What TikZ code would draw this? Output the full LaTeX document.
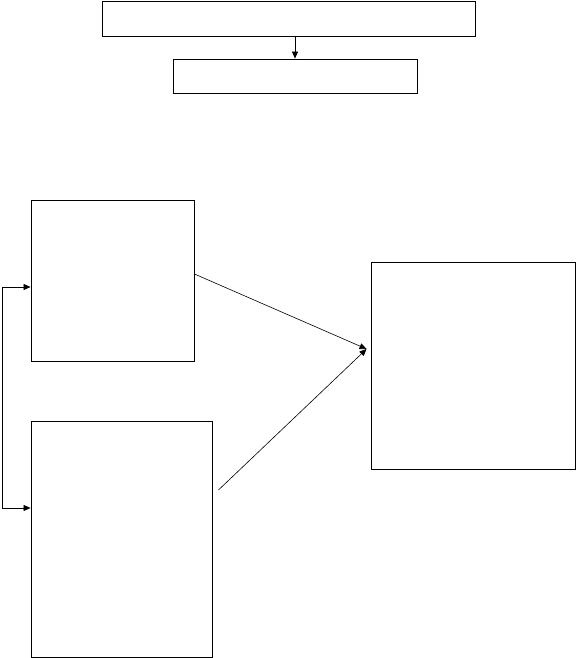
\documentclass[tikz,border=0pt]{standalone}
\usepackage{tikz}
\usetikzlibrary{arrows.meta, positioning, calc}
\definecolor{mydark}{RGB}{0,0,0}
\tikzset{
  block/.style={rectangle, draw=mydark, fill=white, inner sep=0pt,
    line width=0.9pt},
  arrow/.style={-{Triangle[length=7pt,width=6pt]}, line width=0.6pt, color=mydark},
  twoarrow/.style={{Triangle[length=7pt,width=6pt]}-{Triangle[length=7pt,width=6pt]},
    line width=0.6pt, color=mydark}
}
\begin{document}
\begin{tikzpicture}[x=1pt, y=-1pt]
  \useasboundingbox (0,0) rectangle (576,658);
  % top chain
  \node[block, minimum width=373pt, minimum height=35pt] (head) at (288.5,18.5) {};
  \node[block, minimum width=244pt, minimum height=34pt] (sub) at (295,76) {};
  \draw[arrow] (head.south -| sub.north) -- (sub.north);
  % inputs and output
  \node[block, minimum width=163pt, minimum height=161pt] (inA) at (112.5,280.5) {};
  \node[block, minimum width=181pt, minimum height=236pt] (inB) at (121.5,539) {};
  \node[block, minimum width=204pt, minimum height=207pt] (out) at (473,365.5) {};
  % feedback between the two inputs
  \coordinate (fbA) at ($(inA.west)+(0,6.5)$);
  \coordinate (fbB) at ($(inB.west)+(0,-31)$);
  \draw[twoarrow] (fbA) -- ++(-28,0) |- (fbB);
  % both inputs into the output
  \coordinate (outin) at ($(out.west)+(-4,-16.5)$);
  \draw[arrow] ($(inA.east)+(0,-6.5)$) -- (outin);
  \draw[arrow] ($(inB.east)+(6,-49)$) -- (outin);
\end{tikzpicture}
\end{document}
